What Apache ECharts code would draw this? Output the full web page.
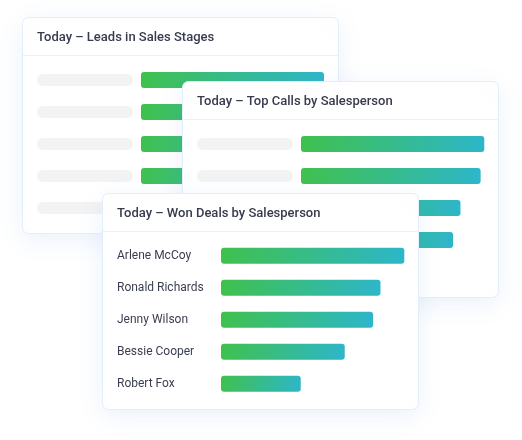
<!DOCTYPE html>
<html>
<head>
<meta charset="utf-8">
<script src="https://cdn.jsdelivr.net/npm/echarts@6/dist/echarts.min.js"></script>
<style>
html,body{margin:0;padding:0;background:#fff;}
#chart{width:522px;height:440px;}
</style>
</head>
<body>
<div id="chart"></div>
<script>
// ---- data ----
var titles = ['Today \u2013 Leads in Sales Stages', 'Today \u2013 Top Calls by Salesperson', 'Today \u2013 Won Deals by Salesperson'];
var leadsStages = ['', '', '', '', ''];
var leadsValues = [100, 90, 80, 70, 55];
var callsPeople = ['', '', '', '', ''];
var callsValues = [100, 98, 87, 83, 58];
var wonPeople = ['Arlene McCoy', 'Ronald Richards', 'Jenny Wilson', 'Bessie Cooper', 'Robert Fox'];
var wonValues = [100, 87, 83, 67.5, 43.5];
var placeholder = [1, 1, 1, 1, 1];
var valueMax = 100;

// ---- layout ----
var cards = [
  {x: 22.5, y: 17.5, w: 316, h: 216},
  {x: 182.5, y: 81.5, w: 316, h: 216},
  {x: 102.5, y: 193.5, w: 316, h: 216}
];
var FONT = 'Roboto, "Noto Sans", sans-serif';
var grad = function () {
  return new echarts.graphic.LinearGradient(0, 0, 1, 1, [
    {offset: 0, color: '#3fc14d'},
    {offset: 1, color: '#2db6ca'}
  ]);
};

var graphics = [];
cards.forEach(function (c, i) {
  var z = i * 10 + 1;
  graphics.push({
    type: 'rect', z: z, silent: true,
    shape: {x: c.x, y: c.y, width: c.w, height: c.h, r: 6},
    style: {fill: '#ffffff', stroke: '#e3eefb', lineWidth: 1,
      shadowBlur: 26, shadowOffsetY: 6, shadowColor: 'rgba(50,120,220,0.10)'}
  });
  graphics.push({
    type: 'line', z: z, silent: true,
    shape: {x1: c.x + 0.5, y1: c.y + 38, x2: c.x + c.w - 0.5, y2: c.y + 38},
    style: {stroke: '#edf1f6', lineWidth: 1}
  });
  graphics.push({
    type: 'text', z: z + 1, silent: true,
    x: c.x + 14.5, y: c.y + 20,
    style: {text: titles[i], font: '500 13px ' + FONT, fill: '#363b4d',
      textVerticalAlign: 'middle', verticalAlign: 'middle'}
  });
});

var grids = [
  {left: 37, top: 64, width: 96, height: 160},
  {left: 141, top: 64, width: 183, height: 160},
  {left: 197, top: 128, width: 96, height: 160},
  {left: 301, top: 128, width: 183.3, height: 160},
  {left: 221, top: 239.7, width: 183.3, height: 160}
];
var zs = [2, 2, 12, 12, 22];
var cats = [leadsStages, leadsStages, callsPeople, callsPeople, wonPeople];
var maxes = [1, valueMax, 1, valueMax, valueMax];

var xAxes = grids.map(function (g, i) {
  return {gridIndex: i, type: 'value', min: 0, max: maxes[i], show: false};
});
var yAxes = grids.map(function (g, i) {
  return {
    gridIndex: i, type: 'category', data: cats[i], inverse: true, z: zs[i] + 1,
    axisLine: {show: false}, axisTick: {show: false}, splitLine: {show: false},
    axisLabel: {show: i === 4, align: 'left', margin: 104, fontFamily: FONT,
      fontSize: 12, color: '#3a3f50'}
  };
});

var barStyle = {color: grad(), borderRadius: 3};
var pillStyle = {color: '#f3f3f4', borderRadius: 6};
var series = [
  {type: 'bar', xAxisIndex: 0, yAxisIndex: 0, z: 2, data: placeholder, barWidth: 12, itemStyle: pillStyle},
  {type: 'bar', xAxisIndex: 1, yAxisIndex: 1, z: 2, data: leadsValues, barWidth: 16, itemStyle: barStyle},
  {type: 'bar', xAxisIndex: 2, yAxisIndex: 2, z: 12, data: placeholder, barWidth: 12, itemStyle: pillStyle},
  {type: 'bar', xAxisIndex: 3, yAxisIndex: 3, z: 12, data: callsValues, barWidth: 16, itemStyle: barStyle},
  {type: 'bar', xAxisIndex: 4, yAxisIndex: 4, z: 22, data: wonValues, barWidth: 16, itemStyle: barStyle}
];

var chart = echarts.init(document.getElementById('chart'), null, {renderer: 'canvas'});
chart.setOption({
  animation: false,
  backgroundColor: '#ffffff',
  graphic: {elements: graphics},
  grid: grids,
  xAxis: xAxes,
  yAxis: yAxes,
  series: series
});
</script>
</body>
</html>
